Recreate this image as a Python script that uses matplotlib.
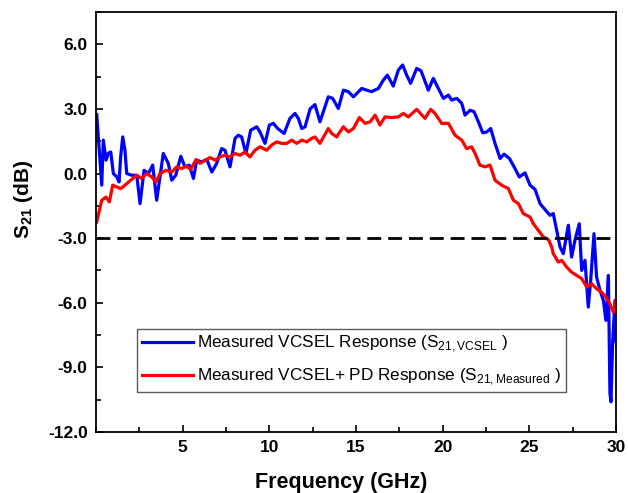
import matplotlib
matplotlib.use("Agg")
import matplotlib.pyplot as plt
from matplotlib.ticker import MultipleLocator, FormatStrFormatter, FixedLocator

plt.rcParams['font.family'] = ['Liberation Sans', 'DejaVu Sans']
plt.rcParams['mathtext.fontset'] = 'custom'
plt.rcParams['mathtext.rm'] = 'Liberation Sans'
plt.rcParams['mathtext.bf'] = 'Liberation Sans:bold'

# Blue: Measured VCSEL response
f_vcsel = [0.04, 0.33, 0.42, 0.58, 0.71, 0.85, 1.0, 1.19, 1.33, 1.42, 1.54, 1.67, 1.77, 2.06, 2.35,
           2.54, 2.77, 3.02, 3.27, 3.5, 3.88, 4.17, 4.37, 4.6, 4.89, 5.13, 5.38, 5.62, 5.81, 6.1,
           6.39, 6.68, 6.96, 7.25, 7.44, 7.73, 8.02, 8.21, 8.4, 8.65, 8.92, 9.27, 9.46, 9.75, 10.0,
           10.23, 10.48, 10.85, 11.19, 11.48, 11.67, 11.87, 12.06, 12.35, 12.63, 12.92, 13.4, 13.65,
           13.98, 14.27, 14.56, 14.85, 15.33, 15.62, 15.9, 16.29, 16.58, 16.81, 17.15, 17.44, 17.69,
           17.92, 18.15, 18.5, 18.75, 19.17, 19.46, 19.75, 20.04, 20.33, 20.52, 20.81, 21.1, 21.29,
           21.58, 21.81, 22.06, 22.31, 22.54, 22.77, 23.02, 23.31, 23.54, 23.85, 24.12, 24.42, 24.75,
           25.04, 25.33, 25.62, 25.9, 26.19, 26.38, 26.58, 26.77, 26.96, 27.25, 27.44, 27.63, 27.88,
           28.02, 28.21, 28.4, 28.54, 28.73, 28.88, 29.08, 29.27, 29.42, 29.56, 29.65, 29.71, 29.81,
           29.94, 30.0]
s_vcsel = [2.74, -0.54, 1.55, 0.62, 0.94, 1.0, 0.0, -0.15, -0.39, 0.77, 1.7, 1.08, 0.0, -0.08, -0.08,
           -1.4, 0.15, 0.0, 0.39, -1.24, 0.93, 0.47, -0.31, -0.08, 0.8, 0.31, 0.39, -0.23, 0.62, 0.54,
           0.65, 0.07, 0.47, 1.16, 1.08, 0.31, 1.63, 1.78, 1.7, 0.93, 2.01, 2.17, 1.93, 1.4, 2.25,
           2.33, 2.09, 1.86, 2.56, 2.79, 2.56, 2.09, 2.17, 3.0, 3.2, 2.4, 3.56, 3.49,
           3.02, 3.87, 3.8, 3.56, 3.95, 3.87, 3.8, 3.95, 4.34, 4.57, 4.06, 4.8, 5.04,
           4.57, 4.19, 4.88, 4.77, 3.87, 4.42, 3.95, 3.49, 3.64, 3.41, 3.49, 3.26, 2.71,
           2.94, 2.87, 2.4, 1.89, 1.93, 2.09, 1.4, 0.7, 0.9, 0.7, 0.31, -0.16, 0.03,
           -0.54, -0.74, -1.4, -1.67, -1.94, -1.86, -2.64, -3.41, -3.72, -2.4, -3.88, -3.1, -2.33,
           -4.5, -4.03, -6.2, -4.96, -2.79, -4.81, -5.43, -5.89, -6.82, -4.73, -10.2, -10.6, -7.75,
           -5.89, -7.8]

# Red: Measured VCSEL + PD response
f_meas = [0.04, 0.33, 0.58, 0.77, 0.96, 1.19, 1.42, 1.67, 2.0, 2.35, 2.63, 2.92, 3.21, 3.46, 3.69,
          4.04, 4.37, 4.65, 4.94, 5.19, 5.46, 5.77, 6.0, 6.29, 6.58, 6.87, 7.15, 7.44, 7.73, 8.02,
          8.31, 8.6, 8.88, 9.17, 9.46, 9.85, 10.13, 10.42, 10.71, 11.0, 11.29, 11.58, 11.87, 12.15,
          12.44, 12.63, 12.92, 13.4, 13.6, 13.88, 14.27, 14.56, 14.85, 15.19, 15.52, 15.81, 16.1,
          16.38, 16.67, 17.06, 17.44, 17.73, 18.02, 18.5, 18.98, 19.31, 19.56, 19.94, 20.33, 20.71,
          21.1, 21.38, 21.67, 21.87, 22.15, 22.44, 22.73, 23.02, 23.4, 23.79, 24.08, 24.37, 24.65,
          25.04, 25.23, 25.52, 25.81, 26.1, 26.29, 26.38, 26.67, 26.87, 27.15, 27.44, 27.73, 28.02,
          28.31, 28.6, 28.88, 29.17, 29.42, 29.65, 29.85, 30.0]
s_meas = [-2.25, -1.24, -1.09, -1.32, -0.54, -0.62, -0.7, -0.54, -0.31, -0.08, -0.23, 0.0, -0.16, -0.39, 0.0,
          0.15, 0.07, 0.31, 0.23, 0.34, 0.19, 0.65, 0.47, 0.62, 0.74, 0.62, 0.77, 0.85, 0.77, 0.93,
          0.85, 1.0, 0.77, 1.08, 1.24, 1.08, 1.32, 1.47, 1.4, 1.4, 1.55, 1.4, 1.55, 1.47,
          1.63, 1.7, 1.4, 2.09, 1.86, 1.7, 2.17, 1.93, 2.09, 2.6, 2.33, 2.4, 2.71,
          2.25, 2.63, 2.6, 2.63, 2.79, 2.63, 2.98, 2.56, 2.98, 2.79, 2.33, 2.33, 1.78,
          1.55, 1.16, 1.24, 0.93, 0.39, 0.31, 0.39, -0.31, -0.54, -0.7, -1.24, -1.4, -1.86,
          -2.02, -2.33, -2.64, -2.95, -3.07, -3.41, -3.72, -4.11, -4.03, -4.34, -4.58, -4.73, -4.88,
          -5.27, -5.12, -5.35, -5.51, -5.74, -6.05, -6.44, -5.89]

labels = ['Measured VCSEL Response (S$_{\\mathregular{21,VCSEL}}$ )',
          'Measured VCSEL+ PD Response (S$_{\\mathregular{21,Measured}}$ )']
ref_level = -3.0
x_ticks = [5, 10, 15, 20, 25, 30]
y_ticks = [-12, -9, -6, -3, 0, 3, 6]

fig = plt.figure(figsize=(6.28, 4.93), dpi=100)
ax = fig.add_axes([0.1529, 0.1237, 0.828, 0.852])

ax.plot(f_vcsel, s_vcsel, color='#0000ff', lw=2.3, label=labels[0], solid_joinstyle='round')
ax.plot(f_meas, s_meas, color='#ff0000', lw=2.3, label=labels[1], solid_joinstyle='round')
ax.axhline(ref_level, color='black', lw=2, ls=(0, (5, 2.5)))

ax.set_xlim(0, 30)
ax.set_ylim(-12, 7.5)
ax.xaxis.set_major_locator(FixedLocator(x_ticks))
ax.xaxis.set_minor_locator(MultipleLocator(2.5))
ax.yaxis.set_major_locator(FixedLocator(y_ticks))
ax.yaxis.set_minor_locator(MultipleLocator(1.5))
ax.yaxis.set_major_formatter(FormatStrFormatter('%.1f'))

ax.tick_params(which='both', direction='in', top=False, right=False, width=1.2)
ax.tick_params(which='major', length=5, labelsize=12.5, pad=6)
ax.tick_params(which='minor', length=3.5)
for lab in ax.get_xticklabels() + ax.get_yticklabels():
    lab.set_fontweight('bold')
for sp in ax.spines.values():
    sp.set_linewidth(1.3)

ax.set_xlabel('Frequency (GHz)', fontsize=15.5, fontweight='bold')
ax.xaxis.set_label_coords(0.471, -0.095)
ax.set_ylabel('$\\mathbf{S_{21}}$ (dB)', fontsize=15, fontweight='bold')
ax.yaxis.set_label_coords(-0.117, 0.555)

leg = ax.legend(loc='lower left', bbox_to_anchor=(0.0788, 0.095), fontsize=12.3, frameon=True,
                fancybox=False, edgecolor='#333333', handlelength=2.95, borderpad=0.3,
                labelspacing=0.7, handletextpad=0.25, borderaxespad=0)
leg.get_frame().set_linewidth(1.0)

fig.savefig('out.png', dpi=100)
